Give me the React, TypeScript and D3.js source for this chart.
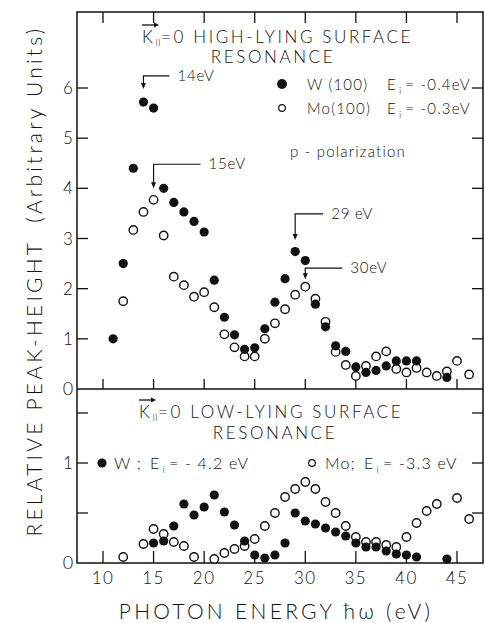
import React from 'react';
import * as d3 from 'd3';

// upper panel: high-lying surface resonance
const topWEnergy = [11, 12, 13, 14, 15, 16, 17, 18, 19, 20, 21, 22, 23, 24, 25, 26, 27, 28, 29, 30, 31, 32, 33, 34, 35, 36, 37, 38, 39, 40, 41, 44];
const topWValue = [1.0, 2.5, 4.4, 5.72, 5.6, 4.0, 3.72, 3.53, 3.34, 3.13, 2.17, 1.43, 1.08, 0.79, 0.82, 1.2, 1.73, 2.2, 2.74, 2.56, 1.69, 1.24, 0.86, 0.75, 0.44, 0.33, 0.37, 0.46, 0.56, 0.56, 0.56, 0.23];
const topMoEnergy = [12, 13, 14, 15, 16, 17, 18, 19, 20, 21, 22, 23, 24, 25, 26, 27, 28, 29, 30, 31, 32, 33, 34, 35, 36, 37, 38, 39, 40, 41, 42, 43, 44, 45, 46.2];
const topMoValue = [1.75, 3.17, 3.53, 3.77, 3.06, 2.24, 2.07, 1.84, 1.93, 1.63, 1.09, 0.83, 0.65, 0.65, 1.0, 1.31, 1.59, 1.88, 2.04, 1.8, 1.34, 0.74, 0.48, 0.26, 0.46, 0.65, 0.75, 0.4, 0.33, 0.42, 0.33, 0.26, 0.35, 0.56, 0.29];

// lower panel: low-lying surface resonance
const botWEnergy = [15, 16, 17, 18, 19, 20, 21, 22, 23, 24, 25, 26, 27, 28, 29, 30, 31, 32, 33, 34, 35, 36, 37, 38, 39, 40, 41, 44];
const botWValue = [0.2, 0.22, 0.37, 0.59, 0.48, 0.56, 0.68, 0.51, 0.38, 0.22, 0.08, 0.05, 0.08, 0.2, 0.5, 0.42, 0.39, 0.35, 0.31, 0.27, 0.2, 0.16, 0.16, 0.12, 0.09, 0.08, 0.06, 0.04];
const botMoEnergy = [12, 14, 15, 16, 17, 18, 19, 21, 22, 23, 24, 25, 26, 27, 28, 29, 30, 31, 32, 33, 34, 35, 36, 37, 38, 39, 40, 41, 42, 43, 45, 46.2];
const botMoValue = [0.06, 0.19, 0.34, 0.29, 0.21, 0.17, 0.06, 0.04, 0.1, 0.14, 0.17, 0.24, 0.37, 0.5, 0.66, 0.74, 0.81, 0.74, 0.61, 0.5, 0.37, 0.26, 0.21, 0.21, 0.18, 0.16, 0.26, 0.4, 0.52, 0.59, 0.65, 0.44];

const xTicks = [10, 15, 20, 25, 30, 35, 40, 45];
const topYTicks = [1, 2, 3, 4, 5, 6];
const botYTicks = [0.5, 1, 1.5];

// arrows: energy, value of the bar, value of the tip, label
const peakLabels = ['14eV', '15eV', '29 eV', '30eV'];
const peakEnergy = [14, 15, 29, 30];
const peakBar = [6.24, 4.48, 3.49, 2.41];
const peakTip = [5.98, 4.0, 2.97, 2.19];

const FONT = 'Lato, "DejaVu Sans", sans-serif';
const INK = '#111';

const W = 485, H = 623;
const left = 77, right = 483, top = 12, mid = 389, bottom = 563;

const x = d3.scaleLinear().domain([10, 45]).range([103, 457]);
const yTop = d3.scaleLinear().domain([0, 6]).range([mid, 88]);
const yBot = d3.scaleLinear().domain([0, 1]).range([bottom, 463]);

function Dots({ xs, ys, y, filled }: { xs: number[]; ys: number[]; y: any; filled: boolean }) {
  return (
    <g>
      {xs.map((e, i) => (
        <circle
          key={i}
          cx={x(e)}
          cy={y(ys[i])}
          r={filled ? 4.6 : 4.2}
          fill={filled ? INK : '#fff'}
          stroke={INK}
          strokeWidth={filled ? 0 : 1.4}
        />
      ))}
    </g>
  );
}

function KTitle({ x0, y0, rest }: { x0: number; y0: number; rest: string }) {
  return (
    <g>
      <line x1={x0} x2={x0 + 14} y1={y0 - 18} y2={y0 - 18} stroke={INK} strokeWidth={1.3} />
      <path d={`M${x0 + 17},${y0 - 18} l-5,-2.5 l0,5 z`} fill={INK} />
      <text x={x0} y={y0} fontSize={17} fontWeight={300} fontFamily={FONT} fill={INK} letterSpacing={2.6}>
        K
        <tspan fontSize={9} dy={3} letterSpacing={0.5}>II</tspan>
        <tspan dy={-3}>{rest}</tspan>
      </text>
    </g>
  );
}

// legend line: label, then "E_i = value" at a fixed column
function LegendText({ x0, x1, y0, label, value, size }: { x0: number; x1: number; y0: number; label: string; value: string; size: number }) {
  return (
    <g fontFamily={FONT} fontWeight={300} fill={INK}>
      <text x={x0} y={y0} fontSize={size} letterSpacing={1.2}>{label}</text>
      <text x={x1} y={y0} fontSize={size} letterSpacing={1.2}>
        E<tspan fontSize={10} dx={2} dy={4}>i</tspan>
        <tspan dy={-4} dx={3}>{value}</tspan>
      </text>
    </g>
  );
}

export default function App() {
  return (
    <svg width={W} height={H} style={{ position: 'absolute', left: 0, top: 0, background: '#fff' }}>
      {/* frame */}
      <rect x={left} y={top} width={right - left} height={bottom - top} fill="none" stroke={INK} strokeWidth={1.5} />
      <line x1={left} x2={right} y1={mid} y2={mid} stroke={INK} strokeWidth={1.5} />

      {/* x ticks */}
      {xTicks.map(t => (
        <g key={t} stroke={INK} strokeWidth={1.3}>
          <line x1={x(t)} x2={x(t)} y1={top} y2={top + 11} />
          <line x1={x(t)} x2={x(t)} y1={mid} y2={mid - 10} />
          <line x1={x(t)} x2={x(t)} y1={bottom} y2={bottom - 12} />
        </g>
      ))}
      {xTicks.map(t => (
        <text key={t} x={x(t)} y={584} textAnchor="middle" fontSize={17} fontWeight={300} fontFamily={FONT} fill={INK} letterSpacing={1.5}>
          {t}
        </text>
      ))}

      {/* y ticks, upper */}
      {topYTicks.map(t => (
        <g key={t} stroke={INK} strokeWidth={1.3}>
          <line x1={left} x2={left + 11} y1={yTop(t)} y2={yTop(t)} />
          <line x1={right} x2={right - 11} y1={yTop(t)} y2={yTop(t)} />
        </g>
      ))}
      {topYTicks.map(t => (
        <text key={t} x={68} y={yTop(t) + 6} textAnchor="middle" fontSize={17} fontWeight={300} fontFamily={FONT} fill={INK}>
          {t}
        </text>
      ))}
      <text x={68} y={mid + 6} textAnchor="middle" fontSize={18} fontWeight={300} fontFamily={FONT} fill={INK}>0</text>

      {/* y ticks, lower */}
      {botYTicks.map(t => (
        <g key={t} stroke={INK} strokeWidth={1.3}>
          <line x1={left} x2={left + 11} y1={yBot(t)} y2={yBot(t)} />
          <line x1={right} x2={right - 11} y1={yBot(t)} y2={yBot(t)} />
        </g>
      ))}
      <text x={68} y={yBot(1) + 6} textAnchor="middle" fontSize={17} fontWeight={300} fontFamily={FONT} fill={INK}>1</text>
      <text x={68} y={bottom + 6} textAnchor="middle" fontSize={18} fontWeight={300} fontFamily={FONT} fill={INK}>0</text>

      {/* axis titles */}
      <text x={276} y={619} textAnchor="middle" fontSize={21} fontWeight={300} fontFamily={FONT} fill={INK} letterSpacing={3.3}>
        PHOTON ENERGY ħω (eV)
      </text>
      <text
        transform="translate(42,281) rotate(-90)"
        textAnchor="middle"
        fontSize={21}
        fontWeight={300}
        fontFamily={FONT}
        fill={INK}
        letterSpacing={3.2}
        style={{ whiteSpace: 'pre' }}
      >
        RELATIVE PEAK-HEIGHT  (Arbitrary Units)
      </text>

      {/* upper panel text */}
      <KTitle x0={142} y0={43} rest="=0 HIGH-LYING SURFACE" />
      <text x={273} y={63} textAnchor="middle" fontSize={17} fontWeight={300} fontFamily={FONT} fill={INK} letterSpacing={2.6}>RESONANCE</text>

      <circle cx={282} cy={84} r={5} fill={INK} />
      <LegendText x0={307} x1={387} y0={90} label="W (100)" value="= -0.4eV" size={15} />
      <circle cx={282} cy={108} r={3.3} fill="#fff" stroke={INK} strokeWidth={1.2} />
      <LegendText x0={307} x1={387} y0={114} label="Mo(100)" value="= -0.3eV" size={15} />
      <text x={290} y={157} fontSize={15} fontWeight={300} fontFamily={FONT} fill={INK} letterSpacing={1.2}>p - polarization</text>

      {/* peak arrows */}
      {peakLabels.map((lab, i) => {
        const ax = x(peakEnergy[i]);
        const by = yTop(peakBar[i]);
        const ty = yTop(peakTip[i]);
        const len = [26, 47, 28, 37][i];
        return (
          <g key={lab}>
            <polyline points={`${ax + len},${by} ${ax},${by} ${ax},${ty - 5}`} fill="none" stroke={INK} strokeWidth={1.2} />
            <path d={`M${ax},${ty} l-2.5,-6 l5,0 z`} fill={INK} />
            <text x={ax + len + 8} y={by + 5} fontSize={15} fontWeight={300} fontFamily={FONT} fill={INK} letterSpacing={0.8}>
              {lab}
            </text>
          </g>
        );
      })}

      <Dots xs={topMoEnergy} ys={topMoValue} y={yTop} filled={false} />
      <Dots xs={topWEnergy} ys={topWValue} y={yTop} filled={true} />

      {/* lower panel text */}
      <KTitle x0={139} y0={418} rest="=0 LOW-LYING SURFACE" />
      <text x={275} y={439} textAnchor="middle" fontSize={17} fontWeight={300} fontFamily={FONT} fill={INK} letterSpacing={2.6}>RESONANCE</text>

      <circle cx={102} cy={463} r={4.6} fill={INK} />
      <LegendText x0={114} x1={150} y0={469} label="W ;" value="= - 4.2 eV" size={16} />
      <circle cx={312} cy={463} r={3.3} fill="#fff" stroke={INK} strokeWidth={1.2} />
      <LegendText x0={325} x1={364} y0={469} label="Mo;" value="= -3.3 eV" size={16} />

      <Dots xs={botMoEnergy} ys={botMoValue} y={yBot} filled={false} />
      <Dots xs={botWEnergy} ys={botWValue} y={yBot} filled={true} />
    </svg>
  );
}
